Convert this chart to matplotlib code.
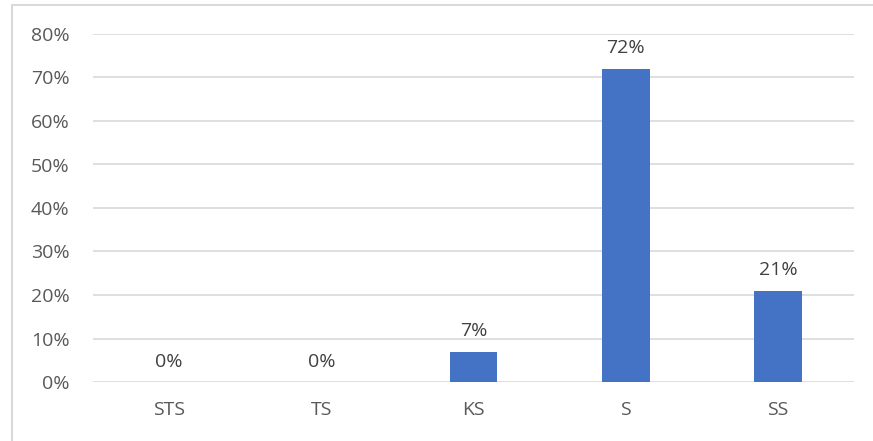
import matplotlib.pyplot as plt
from matplotlib.patches import Rectangle

categories = ['STS', 'TS', 'KS', 'S', 'SS']
values = [0, 0, 7, 72, 21]
ticks = [0, 10, 20, 30, 40, 50, 60, 70, 80]

plt.rcParams['font.family'] = ['Open Sans', 'DejaVu Sans']

fig = plt.figure(figsize=(8.73, 4.41), dpi=100)
ax = fig.add_axes([93 / 873, 1 - 382 / 441, (854 - 93) / 873, (382 - 34) / 441])

x = range(len(categories))
ax.bar(x, values, width=0.315, color='#4472C4', zorder=3)

for i, v in enumerate(values):
    ax.text(i, v + 2.6, f'{v}%', ha='center', va='bottom', fontsize=14, color='#404040')

ax.set_ylim(0, 80)
ax.set_xlim(-0.5, len(categories) - 0.5)
ax.set_yticks(ticks)
ax.set_yticklabels([f'{t}%' for t in ticks])
ax.set_xticks(list(x))
ax.set_xticklabels(categories)
ax.tick_params(length=0, labelsize=14, labelcolor='#595959')
ax.tick_params(axis='y', pad=17)
ax.tick_params(axis='x', pad=14)
ax.grid(axis='y', color='#d9d9d9', linewidth=1.2, zorder=0)
for s in ax.spines.values():
    s.set_visible(False)

# chart border
fig.patches.append(Rectangle((11.5 / 873, -0.1), 1.2, 1 - 4.5 / 441 + 0.1,
                             transform=fig.transFigure, fill=False,
                             edgecolor='#d9d9d9', linewidth=1.5))

fig.savefig('out.png', dpi=100)
